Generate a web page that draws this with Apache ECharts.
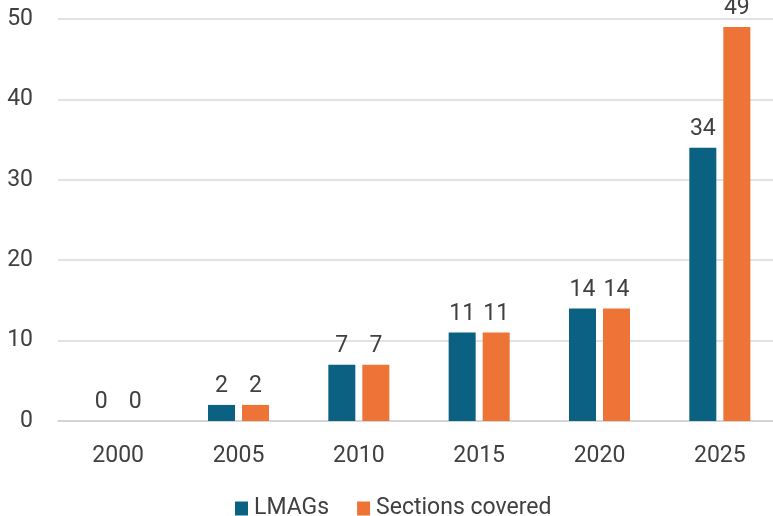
<!DOCTYPE html>
<html>
<head>
<meta charset="utf-8">
<script src="https://cdn.jsdelivr.net/npm/echarts@6/dist/echarts.min.js"></script>
<style>html,body{margin:0;padding:0;background:#fff;overflow:hidden}#c{width:780px;height:516px}</style>
</head>
<body>
<div id="c"></div>
<script>
const categories = ['2000', '2005', '2010', '2015', '2020', '2025'];
const lmags = [0, 2, 7, 11, 14, 34];
const sectionsCovered = [0, 2, 7, 11, 14, 49];
const yTicks = [0, 10, 20, 30, 40, 50];

const chart = echarts.init(document.getElementById('c'));
const labelStyle = { show: true, position: 'top', distance: 7, color: '#404040', fontSize: 23, fontFamily: 'Roboto' };
chart.setOption({
  animation: false,
  textStyle: { fontFamily: 'Roboto' },
  grid: { left: 58, right: 0, top: 19, bottom: 95, containLabel: false },
  legend: {
    top: 492, left: 230, itemWidth: 13, itemHeight: 14, itemGap: 28,
    icon: 'rect',
    textStyle: { fontSize: 23, color: '#404040', fontFamily: 'Roboto', padding: [0, 0, 0, 1] },
    data: ['LMAGs', 'Sections covered']
  },
  xAxis: {
    type: 'category', data: categories,
    axisLine: { lineStyle: { color: '#d0d0d0', width: 1.5 } },
    axisTick: { show: false },
    axisLabel: { color: '#404040', fontSize: 23, margin: 24 }
  },
  yAxis: {
    type: 'value', min: yTicks[0], max: yTicks[yTicks.length - 1], interval: 10,
    axisLine: { show: false }, axisTick: { show: false },
    axisLabel: { color: '#404040', fontSize: 23, margin: 25 },
    splitLine: { lineStyle: { color: '#d9d9d9', width: 1.5 } }
  },
  series: [
    { name: 'LMAGs', type: 'bar', data: lmags, barWidth: 27, barGap: '26%', itemStyle: { color: '#0b6182' }, label: labelStyle },
    { name: 'Sections covered', type: 'bar', data: sectionsCovered, barWidth: 27, itemStyle: { color: '#ee7336' }, label: labelStyle }
  ]
});
</script>
</body>
</html>
